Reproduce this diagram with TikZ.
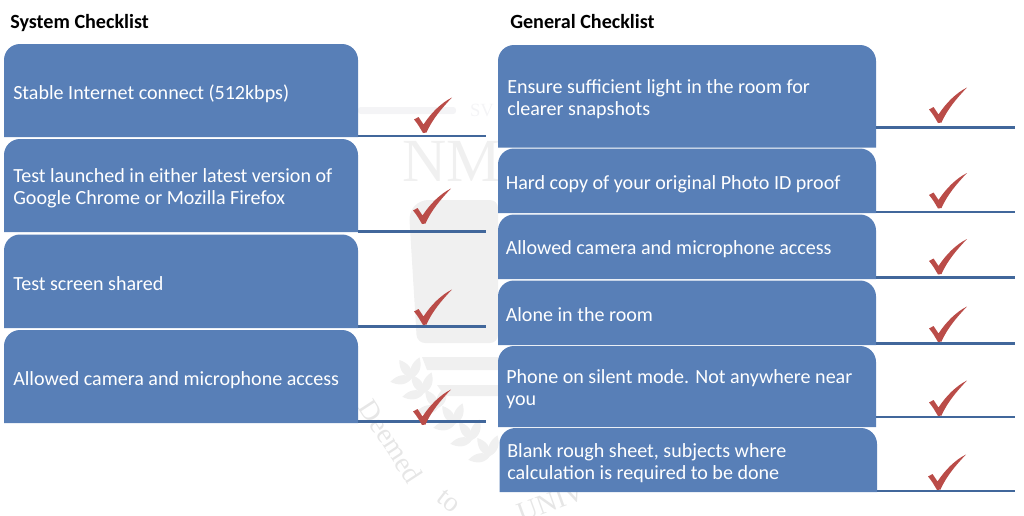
\documentclass[tikz,border=0pt]{standalone}
\usepackage{fontspec}
\setmainfont{Carlito}
\newfontfamily\wmfont{Liberation Serif}
\definecolor{boxblue}{RGB}{88,127,183}
\definecolor{linkblue}{RGB}{65,103,155}
\definecolor{tickred}{RGB}{186,76,72}
\definecolor{wm}{RGB}{240,240,240}
\definecolor{wmtext}{RGB}{230,230,230}
\definecolor{wmpale}{RGB}{244,244,246}
\tikzset{
  itembox/.style={fill=boxblue,draw=none},
  itemtext/.style={anchor=west,inner sep=0pt,text=white,font=\fontsize{15.05}{16.6}\selectfont,align=left},
  heading/.style={anchor=base west,inner sep=0pt,text=black,font=\fontsize{15.1}{18}\selectfont\bfseries},
  ruleline/.style={draw=linkblue,line width=2.2pt},
  tickmark/.style={fill=tickred,draw=none},
  wmletters/.style={inner sep=0pt,font=\wmfont}
}
\newcommand{\itembg}[5]{%
  \fill[itembox] (#2,#5) [rounded corners=12pt] -- (#2,#3) -- (#4,#3) [sharp corners] -- (#4,#5) -- cycle;
}
\newcommand{\tickat}[2]{%
  \fill[tickmark] (#1,#2) .. controls (#1-3,#2-5) and (#1-5,#2-9) .. (#1-9,#2-13.5)
    -- (#1-4.5,#2-16) .. controls (#1-2.5,#2-13) and (#1-1,#2-11) .. (#1+0.5,#2-8.5)
    .. controls (#1+8,#2-20) and (#1+18,#2-30) .. (#1+29,#2-35.5)
    .. controls (#1+18,#2-24) and (#1+9,#2-13) .. (#1+3.5,#2-0.5) -- cycle;
}
\newcommand{\leaf}[3]{%
  \fill[wm,rotate around={#3:(#1,#2)}] (#1,#2) .. controls (#1+6,#2-6) and (#1+14,#2-6) .. (#1+22,#2) .. controls (#1+14,#2+6) and (#1+6,#2+6) .. (#1,#2) -- cycle;
}
\begin{document}
\begin{tikzpicture}[x=0.75pt,y=-0.75pt]
\useasboundingbox (0,0) rectangle (1024,515);
% watermark
\fill[wmpale,rounded corners=2pt] (358,107) rectangle (456,114);
\fill[wm,rounded corners=6pt] (409,212) -- (420,200) -- (498,200) -- (498,343) -- (417,343) -- cycle;
\fill[wm] (422,357) -- (498,357) -- (498,370) -- (427,370) -- cycle;
\fill[wm] (437,385) -- (498,385) -- (498,396) -- (445,396) -- cycle;
\node[wmletters,text=wm,font=\wmfont\fontsize{46}{46}\selectfont] (wmnm) at (452,161) {NM};
\node[wmletters,text=wmpale,font=\wmfont\fontsize{14}{14}\selectfont] (wmsv) at (482,110) {SV};
\foreach \px/\py in {412/378,424/393,438/408,455/424,472/440,490/456}
  {\leaf{\px}{\py}{125}\leaf{\px}{\py}{190}\leaf{\px}{\py}{70}}
\node[wmletters,text=wmtext,rotate=-57,font=\wmfont\fontsize{21}{21}\selectfont] (wmd) at (391,441) {Deemed};
\node[wmletters,text=wmtext,rotate=-38,font=\wmfont\fontsize{21}{21}\selectfont] (wmto) at (449,501) {to};
\node[wmletters,text=wmtext,rotate=20,font=\wmfont\fontsize{21}{21}\selectfont] (wmu) at (551,502) {UNIV};
% left boxes
\itembg{a1}{4}{44}{358}{137}
\itembg{a2}{4}{139}{358}{232}
\itembg{a3}{4}{234.5}{358}{328}
\itembg{a4}{4}{330}{358}{423}
% right boxes
\itembg{b1}{498}{45}{876}{147.5}
\itembg{b2}{498}{148.5}{876}{213}
\itembg{b3}{498}{214.5}{876}{279}
\itembg{b4}{498}{280.5}{876}{345}
\itembg{b5}{498}{346}{876}{427}
\itembg{b6}{499.5}{428}{877}{492}
% rules
\coordinate (sa1) at (358,136);
\coordinate (sa2) at (358,231.3);
\coordinate (sa3) at (358,326.3);
\coordinate (sa4) at (358,421.7);
\coordinate (ea1) at (486,136);
\coordinate (ea2) at (486,231.3);
\coordinate (ea3) at (486,326.3);
\coordinate (ea4) at (486,421.7);
\coordinate (sb1) at (876,127.3);
\coordinate (sb2) at (876,212);
\coordinate (sb3) at (876,277.5);
\coordinate (sb4) at (876,343.3);
\coordinate (sb5) at (876,417);
\coordinate (sb6) at (877,491);
\coordinate (eb1) at (1014.5,127.3);
\coordinate (eb2) at (1014.5,212);
\coordinate (eb3) at (1014.5,277.5);
\coordinate (eb4) at (1014.5,343.3);
\coordinate (eb5) at (1014.5,417);
\coordinate (eb6) at (1014.5,491);
\foreach \r in {a1,a2,a3,a4,b1,b2,b3,b4,b5,b6}
  {\draw[ruleline] (s\r) -- (e\r);}
% ticks
\tickat{423}{133}
\tickat{422}{224}
\tickat{423}{325}
\tickat{422}{425}
\tickat{938}{123}
\tickat{938}{208.5}
\tickat{938}{274.5}
\tickat{938}{342}
\tickat{938}{416}
\tickat{937}{490}
% headings
\node[heading] (h1) at (10,28) {System Checklist};
\node[heading] (h2) at (510,28) {General Checklist};
% texts
\node[itemtext] (t1) at (13,93.5) {Stable Internet connect (512kbps)};
\node[itemtext] (t2) at (13,188.5) {Test launched in either latest version of\\Google Chrome or Mozilla Firefox};
\node[itemtext] (t3) at (13,284) {Test screen shared};
\node[itemtext] (t4) at (13,380) {Allowed camera and microphone access};
\node[itemtext] (u1) at (507,99.5) {Ensure sufficient light in the room for\\clearer snapshots};
\node[itemtext] (u2) at (505.5,184) {Hard copy of your original Photo ID proof};
\node[itemtext] (u3) at (505.5,249.5) {Allowed camera and microphone access};
\node[itemtext] (u4) at (505.5,314.5) {Alone in the room};
\node[itemtext] (u5) at (506,389.5) {Phone on silent mode. Not anywhere near\\you};
\node[itemtext] (u6) at (507,463) {Blank rough sheet, subjects where\\calculation is required to be done};
\end{tikzpicture}
\end{document}
